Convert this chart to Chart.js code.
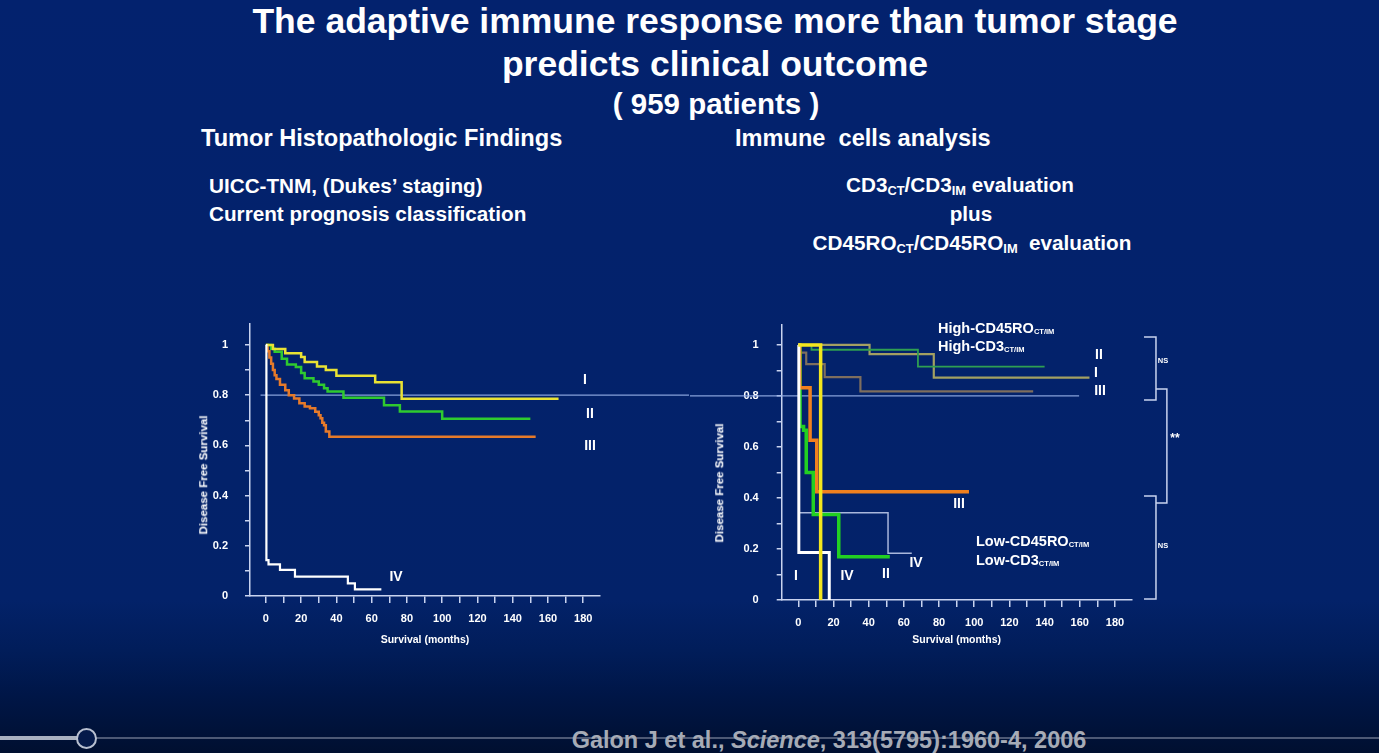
<!DOCTYPE html>
<html>
<head>
<meta charset="utf-8">
<script src="https://cdn.jsdelivr.net/npm/chart.js@4.4.1/dist/chart.umd.min.js"></script>
<style>
  html, body { margin:0; padding:0; }
  body {
    width:1379px; height:753px; overflow:hidden; position:relative;
    background: linear-gradient(to bottom, #03226e 0px, #032269 600px, #011d5a 650px, #001647 695px, #001239 730px, #000f30 753px);
    font-family: "Liberation Sans", Arial, sans-serif; font-weight:bold; color:#fff;
  }
  .t { position:absolute; white-space:pre; line-height:1; }
  .c { transform: translate(-50%, -50%); }
  .l { transform: translate(0, -50%); }
  sub { font-size:0.62em; vertical-align:-0.28em; line-height:0; }
  .sm sub { font-size:0.52em; vertical-align:-0.2em; }
  canvas { position:absolute; }
  .rot { transform: translate(-50%, -50%) rotate(-90deg); }
</style>
</head>
<body>

<div class="t c" style="left:715px;top:22px;font-size:35.5px;">The adaptive immune response more than tumor stage</div>
<div class="t c" style="left:715px;top:65px;font-size:35.5px;">predicts clinical outcome</div>
<div class="t c" style="left:716px;top:104px;font-size:29.5px;">( 959 patients )</div>

<div class="t l" style="left:201px;top:139px;font-size:23.6px;">Tumor Histopathologic Findings</div>
<div class="t l" style="left:735px;top:139px;font-size:23.6px;">Immune  cells analysis</div>

<div class="t l" style="left:209px;top:186px;font-size:20.7px;">UICC-TNM, (Dukes’ staging)</div>
<div class="t l" style="left:209px;top:214px;font-size:20.7px;">Current prognosis classification</div>

<div class="t c" style="left:960px;top:185px;font-size:20.7px;">CD3<sub>CT</sub>/CD3<sub>IM</sub> evaluation</div>
<div class="t c" style="left:971px;top:214px;font-size:20.7px;">plus</div>
<div class="t c" style="left:972px;top:243px;font-size:20.7px;">CD45RO<sub>CT</sub>/CD45RO<sub>IM</sub>  evaluation</div>

<canvas id="left" width="510" height="360" style="left:180px;top:300px;width:510px;height:360px;"></canvas>
<canvas id="right" width="540" height="360" style="left:690px;top:300px;width:540px;height:360px;"></canvas>

<!-- axis titles -->
<div class="t rot" style="left:204px;top:475px;font-size:11.5px;">Disease Free Survival</div>
<div class="t rot" style="left:720px;top:483px;font-size:11.5px;">Disease Free Survival</div>

<!-- left chart curve labels -->
<div class="t c" style="left:585px;top:379px;font-size:14px;">I</div>
<div class="t c" style="left:590px;top:413px;font-size:14px;">II</div>
<div class="t c" style="left:590px;top:445px;font-size:14px;">III</div>
<div class="t c" style="left:396px;top:576px;font-size:14px;">IV</div>

<!-- right chart labels -->
<div class="t l sm" style="left:938px;top:328px;font-size:14.5px;">High-CD45RO<sub>CT/IM</sub></div>
<div class="t l sm" style="left:938px;top:346px;font-size:14.5px;">High-CD3<sub>CT/IM</sub></div>
<div class="t c" style="left:1099px;top:354px;font-size:14px;">II</div>
<div class="t c" style="left:1096px;top:372px;font-size:14px;">I</div>
<div class="t c" style="left:1100px;top:390px;font-size:14px;">III</div>
<div class="t c" style="left:959px;top:503px;font-size:14px;">III</div>
<div class="t c" style="left:916px;top:562px;font-size:14px;">IV</div>
<div class="t c" style="left:796px;top:575px;font-size:14px;">I</div>
<div class="t c" style="left:847px;top:575px;font-size:14px;">IV</div>
<div class="t c" style="left:886px;top:573px;font-size:14px;">II</div>
<div class="t l sm" style="left:976px;top:541px;font-size:14.5px;">Low-CD45RO<sub>CT/IM</sub></div>
<div class="t l sm" style="left:976px;top:560px;font-size:14.5px;">Low-CD3<sub>CT/IM</sub></div>
<div class="t c" style="left:1163px;top:361px;font-size:7.5px;">NS</div>
<div class="t c" style="left:1175px;top:438px;font-size:12px;">**</div>
<div class="t c" style="left:1163px;top:546px;font-size:7.5px;">NS</div>

<!-- video progress bar -->
<div style="position:absolute;left:0;top:737px;width:1379px;height:2px;background:rgba(140,150,170,0.55);"></div>
<div style="position:absolute;left:0;top:736px;width:80px;height:4px;background:#a9b1c0;"></div>
<div style="position:absolute;left:76px;top:728px;width:17px;height:17px;border:2px solid #b8c0d0;border-radius:50%;background:#051a4a;"></div>

<div class="t c" style="left:829px;top:741px;font-size:23.5px;color:#a6abb6;">Galon J et al., <i>Science</i>, 313(5795):1960-4, 2006</div>

<script>
// ---------- LEFT: UICC-TNM stages (months, disease free survival) ----------
const stageI   = [[0,1],[4,0.984],[11,0.967],[20,0.952],[22,0.932],[29,0.914],[34,0.900],[40,0.878],[62,0.852],[77,0.786],[166,0.786]];
const stageII  = [[0,1],[3,0.985],[5,0.973],[9,0.945],[12,0.922],[17,0.912],[20,0.888],[22,0.868],[27,0.855],[30,0.842],[33,0.828],[35,0.815],[44,0.790],[67,0.760],[76,0.735],[100,0.706],[150,0.706]];
const stageIII = [[0,1],[1,0.975],[2,0.95],[3,0.925],[4,0.90],[5,0.88],[6,0.865],[8,0.842],[11,0.82],[13,0.80],[16,0.787],[19,0.768],[22,0.755],[25,0.748],[28,0.734],[30,0.72],[31,0.708],[32,0.69],[33,0.68],[34,0.655],[36,0.634],[153,0.634]];
const stageIV  = [[0,1],[0.3,0.143],[1.5,0.126],[8,0.104],[16.5,0.077],[46.5,0.05],[50.5,0.026],[65.5,0.026]];

// ---------- RIGHT: immune groups ----------
const highI    = [[0,1],[40.5,0.964],[77,0.872],[165.5,0.872]];
const highII   = [[0,1],[7.5,0.981],[68,0.915],[140,0.915]];
const highIII  = [[0,1],[1,0.97],[4.5,0.925],[15,0.874],[35.3,0.818],[133.5,0.818]];
const lowI     = [[0,1],[0.3,0.186],[17.6,0]];
const lowII    = [[0,1],[1,0.68],[3,0.665],[4.5,0.5],[8.5,0.335],[23,0.17],[52,0.17]];
const lowIII   = [[0,1],[0.8,0.832],[6.7,0.626],[10.5,0.424],[97,0.424]];
const lowIV    = [[0,1],[0.3,0.342],[51,0.183],[64.5,0.183]];
const lowYellow= [[0,1],[12.7,0]];

// reference line at 0.8 and significance brackets
const refLeft  = [[-3,0.8],[240,0.8]];
const refRight = [[-61.6,0.8],[159.6,0.8]];
const bracketHigh = [[196.5,1.031],[203.3,1.031],[203.3,0.784],[196.5,0.784]];
const bracketMid  = [[203.3,0.827],[209.5,0.827],[209.5,0.380],[203.3,0.380]];
const bracketLow  = [[196.5,0.408],[203.3,0.408],[203.3,0.004],[196.5,0.004]];

const xTickMarks  = [0,10,20,30,40,50,60,70,80,90,100,110,120,130,140,150,160,170,180];
const xTickLabels = [0,20,40,60,80,100,120,140,160,180];
const yTickMarks  = [0,0.1,0.2,0.3,0.4,0.5,0.6,0.7,0.8,0.9,1];
const yTickLabels = [0,0.2,0.4,0.6,0.8,1];

const FONT = '"Liberation Sans", Arial, sans-serif';
const AXIS = '#c9d3ef';

function pts(a){ return a.map(([x,y]) => ({x, y})); }
function ds(a, color, w){
  return {data: pts(a), borderColor: color, borderWidth: w, pointRadius: 0,
    stepped: 'before', fill: false, tension: 0};
}
function plain(a, color, w){
  return {data: pts(a), borderColor: color, borderWidth: w, pointRadius: 0, stepped: false,
    fill: false, tension: 0, clip: false};
}
function labelFor(list, v){
  const lab = list.find(q => Math.abs(q - v) < 1e-6);
  return lab === undefined ? '' : String(lab);
}

function makeOptions(xmin, xmax, ymax, yWidth, xHeight, pad, yPad){
  return {
    responsive: false, animation: false, events: [],
    layout: { padding: pad },
    plugins: { legend: {display:false}, tooltip: {enabled:false} },
    scales: {
      x: {
        type: 'linear', min: xmin, max: xmax,
        afterFit: s => { s.height = xHeight; },
        afterBuildTicks: s => { s.ticks = xTickMarks.map(v => ({value: v})); },
        ticks: { autoSkip: false, maxRotation: 0, minRotation: 0, color: '#fff',
                 font: {family: FONT, size: 11, weight: 'bold'}, padding: 9,
                 callback: v => labelFor(xTickLabels, v) },
        grid: { drawOnChartArea: false, drawTicks: true, tickLength: 7, color: AXIS, lineWidth: 1.5 },
        border: { display: true, color: AXIS, width: 1.5 },
        title: { display: true, text: 'Survival (months)', color: '#fff',
                 font: {family: FONT, size: 10.5, weight: 'bold'}, padding: {top: 0, bottom: 14} }
      },
      y: {
        type: 'linear', min: 0, max: ymax,
        afterFit: s => { s.width = yWidth; },
        afterBuildTicks: s => { s.ticks = yTickMarks.map(v => ({value: v})); },
        ticks: { autoSkip: false, color: '#fff',
                 font: {family: FONT, size: 11, weight: 'bold'}, padding: yPad,
                 callback: v => labelFor(yTickLabels, v) },
        grid: { drawOnChartArea: false, drawTicks: true, tickLength: 5, color: AXIS, lineWidth: 1.5 },
        border: { display: true, color: AXIS, width: 1.5 }
      }
    }
  };
}

new Chart(document.getElementById('left'), {
  type: 'line',
  data: { datasets: [
    ds(stageIV,  '#ffffff', 2.2),
    ds(stageI,   '#e9e234', 2.5),
    ds(stageII,  '#2fca2f', 2.5),
    ds(stageIII, '#e67a2a', 2.5),
    plain(refLeft, 'rgba(150,175,230,0.9)', 1.2)
  ]},
  options: makeOptions(-9, 189.5, 1.0837, 70, 64, {left:0, top:24, right:90, bottom:0}, 17)
});

new Chart(document.getElementById('right'), {
  type: 'line',
  data: { datasets: [
    ds(lowYellow, '#f2e51e', 3.5),
    ds(lowI,    '#ffffff', 3),
    ds(lowIII,  '#f0801e', 3.5),
    ds(lowII,   '#22d022', 3.5),
    ds(lowIV,   '#a9b7dc', 1.5),
    ds(highII,  '#2f9f52', 1.8),
    ds(highI,   '#a3a062', 2.2),
    ds(highIII, '#7e6e5e', 2.2),
    plain(refRight, 'rgba(150,175,230,0.9)', 1.2),
    plain(bracketHigh, AXIS, 1.5),
    plain(bracketMid,  AXIS, 1.5),
    plain(bracketLow,  AXIS, 1.5)
  ]},
  options: makeOptions(-9.44, 189.5, 1.078, 91.7, 60, {left:0, top:25, right:98.3, bottom:0}, 18)
});
</script>
</body>
</html>
